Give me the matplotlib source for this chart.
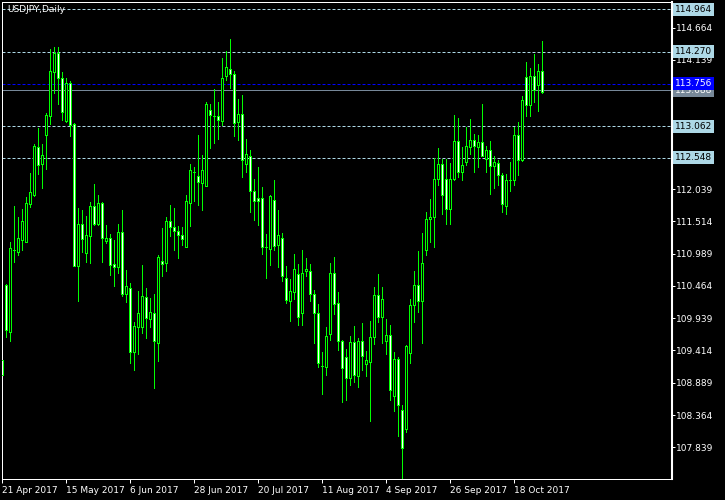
import matplotlib
matplotlib.use("Agg")
import matplotlib.pyplot as plt
import matplotlib.transforms as mtransforms
import numpy as np

# Daily USDJPY candles, bar 0 = 21 Apr 2017
opens = [109.26, 110.48, 109.72, 111.04, 111.02, 111.21, 111.18, 111.79, 111.94, 112.72,
         112.44, 112.92, 113.23, 113.95, 114.26, 113.84, 113.14, 113.76, 113.10, 110.79,
         111.47, 111.00, 111.28, 111.76, 111.47, 111.82, 111.20, 111.24, 110.82, 110.77,
         111.34, 110.33, 110.43, 109.39, 109.80, 109.80, 110.28, 109.92, 110.03, 109.54,
         110.87, 110.83, 111.52, 111.42, 111.36, 111.29, 111.10, 111.81, 112.31, 112.25,
         112.14, 112.09, 113.33, 113.23, 113.23, 113.15, 113.88, 114.00, 113.91, 113.13,
         113.26, 112.44, 112.58, 112.01, 111.90, 111.89, 111.09, 111.07, 111.86, 111.13,
         111.25, 110.60, 110.22, 110.37, 110.66, 110.02, 110.70, 110.71, 110.34, 110.02,
         109.16, 109.14, 109.68, 110.67, 110.18, 109.57, 109.31, 108.96, 109.55, 109.00,
         109.56, 109.19, 109.22, 109.63, 110.32, 109.96, 109.56, 109.67, 108.68, 109.27,
         108.45, 108.13, 109.37, 110.16, 110.48, 110.22, 111.04, 111.55, 111.58, 112.20,
         112.44, 112.21, 111.71, 112.20, 112.82, 112.32, 112.48, 112.73, 112.84, 112.73,
         112.81, 112.53, 112.68, 112.42, 112.46, 112.26, 111.77, 112.18, 112.18, 112.92,
         112.51, 113.86, 113.41, 113.88, 113.73, 113.96]
highs = [109.31, 110.50, 111.18, 111.76, 111.58, 111.72, 111.91, 112.30, 112.77, 113.03,
         112.78, 113.27, 114.31, 114.35, 114.35, 113.94, 113.84, 113.79, 113.11, 111.73,
         111.70, 111.60, 111.83, 112.12, 111.94, 111.83, 111.46, 111.31, 111.21, 111.47,
         111.70, 110.72, 110.51, 109.87, 110.38, 110.80, 110.43, 110.26, 110.33, 110.97,
         111.40, 111.59, 111.78, 111.73, 111.44, 111.42, 111.94, 112.45, 112.40, 112.92,
         112.59, 113.46, 113.42, 113.66, 113.46, 114.17, 114.29, 114.48, 113.96, 113.50,
         113.57, 112.85, 112.68, 112.21, 112.40, 112.07, 111.31, 111.94, 112.19, 111.70,
         111.32, 110.78, 110.58, 110.98, 110.82, 111.05, 110.92, 110.82, 110.40, 110.17,
         109.39, 109.80, 110.84, 110.94, 110.37, 109.58, 109.43, 109.65, 109.81, 109.61,
         109.86, 109.41, 109.89, 110.44, 110.66, 110.44, 109.93, 109.83, 109.39, 109.31,
         108.53, 109.50, 110.25, 110.70, 111.03, 111.32, 111.66, 111.88, 112.54, 112.70,
         112.53, 112.53, 112.46, 113.24, 113.20, 112.73, 113.05, 113.18, 112.94, 112.92,
         113.42, 112.74, 112.82, 112.58, 112.51, 112.30, 112.28, 112.48, 113.05, 113.13,
         113.55, 114.10, 114.01, 114.24, 114.07, 114.45]
lows = [108.97, 109.64, 109.57, 110.86, 110.97, 111.05, 111.18, 111.75, 111.93, 112.28,
        112.06, 112.37, 113.09, 113.60, 113.42, 113.17, 113.13, 112.90, 110.78, 110.22,
        111.02, 110.86, 110.84, 111.46, 111.45, 110.86, 111.16, 110.64, 110.46, 110.67,
        110.30, 110.21, 109.21, 109.10, 109.36, 109.70, 109.62, 109.80, 108.80, 109.25,
        110.63, 110.70, 111.28, 111.05, 110.92, 111.13, 111.10, 111.44, 111.85, 111.78,
        111.70, 112.09, 112.71, 112.79, 112.85, 113.08, 113.81, 113.69, 112.90, 112.84,
        112.24, 112.31, 111.67, 111.54, 111.46, 110.98, 110.60, 110.80, 111.04, 110.77,
        110.54, 110.19, 109.89, 110.25, 109.83, 109.83, 110.63, 110.22, 109.54, 109.14,
        108.71, 109.01, 109.58, 110.01, 109.42, 108.57, 108.61, 108.85, 108.90, 108.82,
        109.10, 109.00, 108.26, 109.52, 109.87, 109.54, 109.36, 108.61, 108.43, 108.03,
        107.34, 108.09, 109.21, 109.88, 110.04, 109.54, 110.97, 111.18, 111.09, 112.11,
        111.63, 111.47, 111.47, 112.19, 112.24, 112.19, 112.43, 112.61, 112.31, 112.39,
        112.58, 112.31, 111.96, 112.06, 112.11, 111.67, 111.63, 112.01, 112.11, 112.27,
        112.50, 113.22, 113.23, 113.46, 113.31, 113.60]
closes = [109.01, 109.74, 111.08, 111.04, 111.24, 111.52, 111.82, 111.99, 112.74, 112.43,
          112.59, 113.24, 113.96, 114.26, 113.84, 113.30, 113.76, 113.08, 110.79, 111.47,
          111.22, 111.29, 111.76, 111.47, 111.82, 111.24, 111.24, 110.80, 110.77, 111.34,
          110.34, 110.46, 109.39, 109.81, 110.03, 110.30, 109.94, 110.04, 109.56, 110.93,
          110.82, 111.52, 111.43, 111.35, 111.30, 111.22, 111.85, 112.35, 112.31, 112.15,
          112.35, 113.42, 113.24, 113.23, 113.16, 113.84, 114.02, 113.91, 113.11, 113.26,
          112.52, 112.61, 112.01, 111.85, 111.85, 111.10, 111.09, 111.93, 111.12, 111.29,
          110.63, 110.24, 110.38, 110.74, 109.96, 110.67, 110.74, 110.34, 110.02, 109.21,
          109.16, 109.65, 110.67, 110.17, 109.57, 109.13, 108.97, 109.55, 109.01, 109.57,
          109.33, 109.26, 109.63, 110.32, 109.95, 110.25, 109.67, 108.77, 109.27, 108.52,
          107.82, 109.49, 110.15, 110.48, 110.22, 110.83, 111.55, 111.58, 112.20, 112.44,
          111.95, 111.71, 112.21, 112.82, 112.32, 112.43, 112.74, 112.84, 112.74, 112.81,
          112.58, 112.68, 112.42, 112.48, 112.26, 111.79, 112.19, 112.18, 112.92, 112.51,
          113.49, 113.41, 113.88, 113.65, 113.96, 113.62]

date_ticks = [0, 16, 32, 48, 64, 80, 96, 112, 128]
date_labels = ["21 Apr 2017", "15 May 2017", "6 Jun 2017", "28 Jun 2017", "20 Jul 2017",
               "11 Aug 2017", "4 Sep 2017", "26 Sep 2017", "18 Oct 2017"]
price_ticks = [107.839, 108.364, 108.889, 109.414, 109.939, 110.464, 110.989, 111.514,
               112.039, 112.564, 113.089, 113.614, 114.139, 114.664]

level_lines = [114.964, 114.270, 113.062, 112.548]
bid_price = 113.756
gray_price = 113.65
gray_label = "113.688"

GREEN = "#00ff00"
LBLUE = "#add8e6"
FS = 6.5

plt.rcParams['font.family'] = ['DejaVu Sans']

fig = plt.figure(figsize=(7.25, 5), dpi=100, facecolor='black')
ax = fig.add_axes([2 / 725, 21 / 500, 670 / 725, 477 / 500])
ax.set_facecolor('black')

o = np.array(opens)
h = np.array(highs)
l = np.array(lows)
c = np.array(closes)
x = np.arange(len(o))

# wicks
ax.vlines(x, l, h, color=GREEN, lw=0.72, zorder=2, antialiased=False)
# bull = black body, bear = white body
up = c >= o
ax.bar(x[up], c[up] - o[up], bottom=o[up], width=0.5, color='black',
       edgecolor=GREEN, linewidth=0.72, zorder=3, antialiased=False)
ax.bar(x[~up], o[~up] - c[~up], bottom=c[~up], width=0.5, color='white',
       edgecolor=GREEN, linewidth=0.72, zorder=3, antialiased=False)

# horizontal levels
for lv in level_lines:
    ax.axhline(lv, color=LBLUE, lw=0.72, ls=(0, (3, 2)), zorder=1)
ax.axhline(gray_price, color='#778899', lw=0.72, zorder=1)
ax.axhline(bid_price, color='#0000ff', lw=0.72, ls=(0, (3, 2)), zorder=1)

trans = mtransforms.blended_transform_factory(ax.transAxes, ax.transData)
for lv in level_lines:
    ax.text(1.0045, lv, f"{lv:.3f}", transform=trans, va='center', ha='left',
            fontsize=FS, color='black', clip_on=False, zorder=5,
            bbox=dict(boxstyle='square,pad=0.22', fc=LBLUE, ec='none'))
ax.text(1.0045, gray_price, gray_label, transform=trans, va='center', ha='left',
        fontsize=FS, color='white', clip_on=False, zorder=5,
        bbox=dict(boxstyle='square,pad=0.22', fc='#778899', ec='none'))
ax.text(1.0045, bid_price, f"{bid_price:.3f}", transform=trans, va='center', ha='left',
        fontsize=FS, color='white', clip_on=False, zorder=6,
        bbox=dict(boxstyle='square,pad=0.22', fc='#0000ff', ec='none'))

ax.text(0.0075, 0.984, "USDJPY,Daily", transform=ax.transAxes, color='white',
        fontsize=FS, va='center', ha='left')

ax.set_xlim(-0.075, 167.425)
ax.set_ylim(107.323, 115.082)

ax.yaxis.tick_right()
ax.set_yticks(price_ticks, [f"{p:.3f}" for p in price_ticks])
ax.set_xticks(date_ticks, date_labels)
for lbl in ax.get_xticklabels():
    lbl.set_ha('left')
ax.tick_params(axis='y', direction='out', length=2.2, width=0.72, colors='white',
               labelsize=FS, pad=0.6)
ax.tick_params(axis='x', direction='out', length=3.2, width=0.72, colors='white',
               labelsize=FS, pad=1.5)

for side in ['left', 'top', 'bottom']:
    ax.spines[side].set_color('white')
    ax.spines[side].set_linewidth(0.72)
ax.spines['right'].set_color('white')
ax.spines['right'].set_linewidth(1.5)

fig.savefig('out.png', dpi=100, facecolor='black')
